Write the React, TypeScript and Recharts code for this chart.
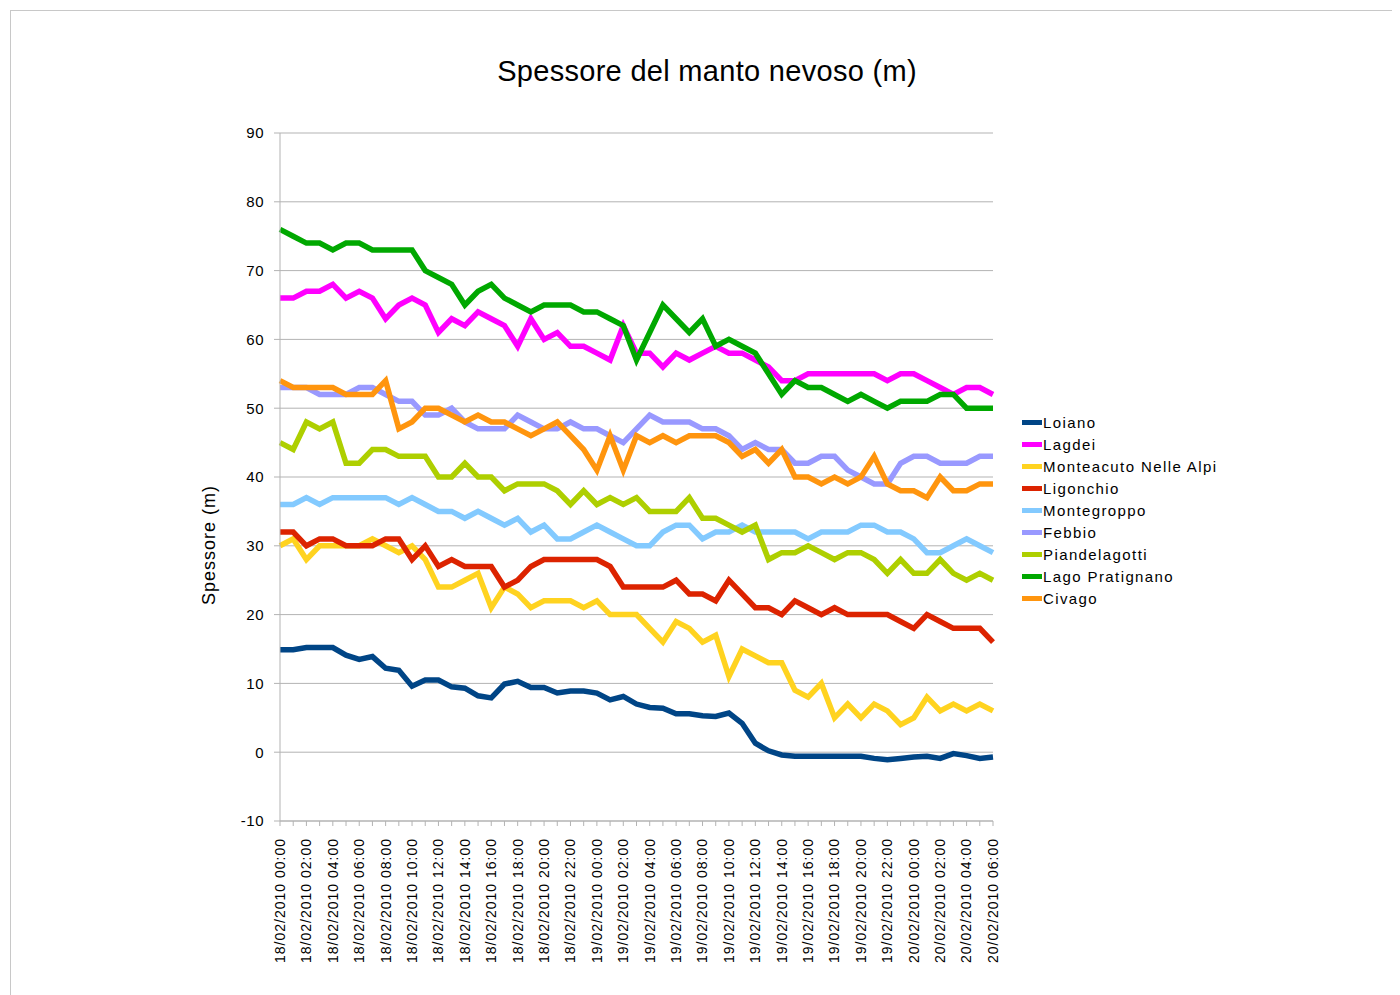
import React from 'react';
import { LineChart, Line, XAxis, YAxis, CartesianGrid, Legend } from 'recharts';

const hours: string[] = [
  '18/02/2010 00:00', '18/02/2010 01:00', '18/02/2010 02:00', '18/02/2010 03:00', '18/02/2010 04:00',
  '18/02/2010 05:00', '18/02/2010 06:00', '18/02/2010 07:00', '18/02/2010 08:00', '18/02/2010 09:00',
  '18/02/2010 10:00', '18/02/2010 11:00', '18/02/2010 12:00', '18/02/2010 13:00', '18/02/2010 14:00',
  '18/02/2010 15:00', '18/02/2010 16:00', '18/02/2010 17:00', '18/02/2010 18:00', '18/02/2010 19:00',
  '18/02/2010 20:00', '18/02/2010 21:00', '18/02/2010 22:00', '18/02/2010 23:00', '19/02/2010 00:00',
  '19/02/2010 01:00', '19/02/2010 02:00', '19/02/2010 03:00', '19/02/2010 04:00', '19/02/2010 05:00',
  '19/02/2010 06:00', '19/02/2010 07:00', '19/02/2010 08:00', '19/02/2010 09:00', '19/02/2010 10:00',
  '19/02/2010 11:00', '19/02/2010 12:00', '19/02/2010 13:00', '19/02/2010 14:00', '19/02/2010 15:00',
  '19/02/2010 16:00', '19/02/2010 17:00', '19/02/2010 18:00', '19/02/2010 19:00', '19/02/2010 20:00',
  '19/02/2010 21:00', '19/02/2010 22:00', '19/02/2010 23:00', '20/02/2010 00:00', '20/02/2010 01:00',
  '20/02/2010 02:00', '20/02/2010 03:00', '20/02/2010 04:00', '20/02/2010 05:00', '20/02/2010 06:00',
];

const loiano = [14.9, 14.9, 15.2, 15.2, 15.2, 14.1, 13.5, 13.9, 12.2, 11.9, 9.6, 10.5, 10.5, 9.5, 9.3, 8.2, 7.9, 9.9, 10.3, 9.4, 9.4, 8.6, 8.9, 8.9, 8.6, 7.6, 8.1, 7.0, 6.5, 6.4, 5.6, 5.6, 5.3, 5.2, 5.7, 4.2, 1.3, 0.2, -0.4, -0.6, -0.6, -0.6, -0.6, -0.6, -0.6, -0.9, -1.1, -0.9, -0.7, -0.6, -0.9, -0.2, -0.5, -0.9, -0.7];
const lagdei = [66, 66, 67, 67, 68, 66, 67, 66, 63, 65, 66, 65, 61, 63, 62, 64, 63, 62, 59, 63, 60, 61, 59, 59, 58, 57, 62, 58, 58, 56, 58, 57, 58, 59, 58, 58, 57, 56, 54, 54, 55, 55, 55, 55, 55, 55, 54, 55, 55, 54, 53, 52, 53, 53, 52];
const monteacuto = [30, 31, 28, 30, 30, 30, 30, 31, 30, 29, 30, 28, 24, 24, 25, 26, 21, 24, 23, 21, 22, 22, 22, 21, 22, 20, 20, 20, 18, 16, 19, 18, 16, 17, 11, 15, 14, 13, 13, 9, 8, 10, 5, 7, 5, 7, 6, 4, 5, 8, 6, 7, 6, 7, 6];
const ligonchio = [32, 32, 30, 31, 31, 30, 30, 30, 31, 31, 28, 30, 27, 28, 27, 27, 27, 24, 25, 27, 28, 28, 28, 28, 28, 27, 24, 24, 24, 24, 25, 23, 23, 22, 25, 23, 21, 21, 20, 22, 21, 20, 21, 20, 20, 20, 20, 19, 18, 20, 19, 18, 18, 18, 16];
const montegroppo = [36, 36, 37, 36, 37, 37, 37, 37, 37, 36, 37, 36, 35, 35, 34, 35, 34, 33, 34, 32, 33, 31, 31, 32, 33, 32, 31, 30, 30, 32, 33, 33, 31, 32, 32, 33, 32, 32, 32, 32, 31, 32, 32, 32, 33, 33, 32, 32, 31, 29, 29, 30, 31, 30, 29];
const febbio = [53, 53, 53, 52, 52, 52, 53, 53, 52, 51, 51, 49, 49, 50, 48, 47, 47, 47, 49, 48, 47, 47, 48, 47, 47, 46, 45, 47, 49, 48, 48, 48, 47, 47, 46, 44, 45, 44, 44, 42, 42, 43, 43, 41, 40, 39, 39, 42, 43, 43, 42, 42, 42, 43, 43];
const piandelagotti = [45, 44, 48, 47, 48, 42, 42, 44, 44, 43, 43, 43, 40, 40, 42, 40, 40, 38, 39, 39, 39, 38, 36, 38, 36, 37, 36, 37, 35, 35, 35, 37, 34, 34, 33, 32, 33, 28, 29, 29, 30, 29, 28, 29, 29, 28, 26, 28, 26, 26, 28, 26, 25, 26, 25];
const pratignano = [76, 75, 74, 74, 73, 74, 74, 73, 73, 73, 73, 70, 69, 68, 65, 67, 68, 66, 65, 64, 65, 65, 65, 64, 64, 63, 62, 57, 61, 65, 63, 61, 63, 59, 60, 59, 58, 55, 52, 54, 53, 53, 52, 51, 52, 51, 50, 51, 51, 51, 52, 52, 50, 50, 50];
const civago = [54, 53, 53, 53, 53, 52, 52, 52, 54, 47, 48, 50, 50, 49, 48, 49, 48, 48, 47, 46, 47, 48, 46, 44, 41, 46, 41, 46, 45, 46, 45, 46, 46, 46, 45, 43, 44, 42, 44, 40, 40, 39, 40, 39, 40, 43, 39, 38, 38, 37, 40, 38, 38, 39, 39];

const seriesNames = ['Loiano', 'Lagdei', 'Monteacuto Nelle Alpi', 'Ligonchio', 'Montegroppo', 'Febbio', 'Piandelagotti', 'Lago Pratignano', 'Civago'];
const seriesValues = [loiano, lagdei, monteacuto, ligonchio, montegroppo, febbio, piandelagotti, pratignano, civago];
const seriesColors = ['#004586', '#ff00ff', '#ffd320', '#dc2300', '#83caff', '#9999ff', '#aecf00', '#00a800', '#ff950e'];
const yTicks = [-10, 0, 10, 20, 30, 40, 50, 60, 70, 80, 90];

const data = hours.map((h, i) => {
  const row: Record<string, any> = { time: h };
  seriesNames.forEach((n, k) => { row[n] = seriesValues[k][i]; });
  return row;
});

const FONT = '"Liberation Sans", Arial, sans-serif';
const GRID = '#b3b3b3';

const XTick = (props: any) => {
  const { x, y, payload, index } = props;
  const ty = y + 17;
  return (
    <g>
      <line x1={x} y1={y} x2={x} y2={y + 5} stroke={GRID} strokeWidth={1} />
      {index % 2 === 0 && (
        <text x={x} y={ty} transform={`rotate(-90, ${x}, ${ty})`} textAnchor="end" dy="0.35em"
          fontFamily={FONT} fontSize={14} letterSpacing={1} fill="#000">{payload.value}</text>
      )}
    </g>
  );
};

const renderLegend = () => (
  <div style={{ fontFamily: FONT, fontSize: 15, letterSpacing: 1.4, color: '#000' }}>
    {seriesNames.map((n, k) => (
      <div key={n} style={{ display: 'flex', alignItems: 'center', height: 22.1, whiteSpace: 'nowrap' }}>
        <span style={{ display: 'inline-block', width: 20, height: 5, background: seriesColors[k], marginRight: 1 }} />
        <span>{n}</span>
      </div>
    ))}
  </div>
);

export default function App() {
  return (
    <div style={{ position: 'relative', width: 1392, height: 987 }}>
      <div style={{ position: 'absolute', left: 2, top: 2, width: 1390, height: 985, borderTop: '1px solid #c8c8c8', borderLeft: '1px solid #c8c8c8', boxSizing: 'border-box' }} />
      <div style={{ position: 'absolute', left: 0, width: 1398, top: 47, fontFamily: FONT, fontSize: 29, lineHeight: '33px', letterSpacing: 0.3, color: '#000', pointerEvents: 'none' }}>
        <span style={{ position: 'absolute', left: 699, transform: 'translateX(-50%)', whiteSpace: 'nowrap' }}>Spessore del manto nevoso (m)</span>
      </div>
      <div style={{ position: 'absolute', left: 201, top: 545 - 8, transform: 'translate(-50%, -50%) rotate(-90deg)', whiteSpace: 'nowrap', fontFamily: FONT, fontSize: 18, letterSpacing: 1.0, color: '#000' }}>
        Spessore (m)
      </div>
      <div style={{ position: 'absolute', left: 0, top: 0 }}>
        <LineChart width={1392} height={985} data={data} margin={{ top: 125, right: 407, bottom: 12, left: 172 }}>
          <CartesianGrid vertical={false} stroke={GRID} strokeWidth={1} />
          <XAxis dataKey="time" interval={0} height={160} tickSize={0} tickMargin={0} tickLine={false}
            axisLine={{ stroke: GRID }} tick={<XTick />} />
          <YAxis domain={[-10, 90]} ticks={yTicks} width={100} tickSize={6} tickMargin={10}
            axisLine={{ stroke: GRID }} tickLine={{ stroke: GRID }}
            tick={{ fontFamily: FONT, fontSize: 15, fill: '#000', letterSpacing: 0.5 }} />
          <YAxis yAxisId="right" orientation="right" domain={[-10, 90]} width={0} tick={false} tickLine={false}
            axisLine={{ stroke: GRID }} />
          <Legend layout="vertical" align="center" verticalAlign="middle" content={renderLegend}
            wrapperStyle={{ left: 1014, top: 403, width: 'auto', height: 'auto' }} />
          {seriesNames.map((n, k) => (
            <Line key={n} type="linear" dataKey={n} stroke={seriesColors[k]} strokeWidth={5.5} dot={false}
              activeDot={false} isAnimationActive={false} strokeLinejoin="miter" />
          ))}
        </LineChart>
      </div>
    </div>
  );
}
